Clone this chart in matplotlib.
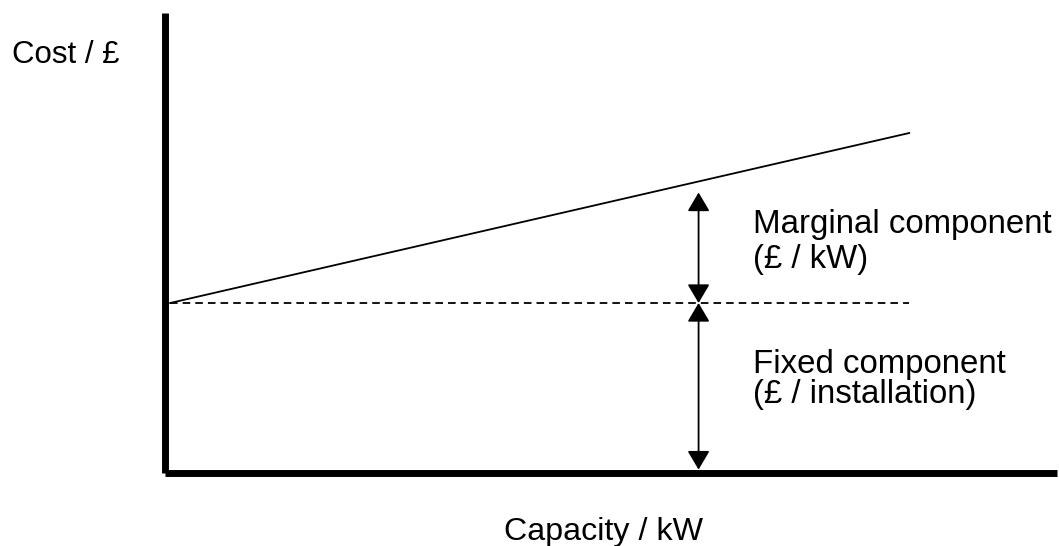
import matplotlib.pyplot as plt
import numpy as np

plt.rcParams['font.family'] = ['Liberation Sans', 'DejaVu Sans']

# cost model (arbitrary units)
capacity = np.array([0.0, 10.0])
fixed_cost = 1.0
marginal_rate = 0.1
total_cost = fixed_cost + marginal_rate * capacity

arrow_cap = 7.15
marginal_top = 1.65

fig = plt.figure(figsize=(10.59, 5.46), dpi=100)
W, H = 1059, 546
ax = fig.add_axes([165 / W, 73 / H, 892 / W, 460 / H])

ax.plot(capacity, total_cost, color='black', lw=1.3)
ax.plot(capacity, [fixed_cost, fixed_cost], color='black', lw=1.3,
        dashes=(4.2, 2.8))

arrow = dict(arrowstyle='<|-|>,head_length=11.5,head_width=6.8',
             mutation_scale=1, color='black', lw=1.3, shrinkA=0, shrinkB=0)
ax.annotate('', xy=(arrow_cap, marginal_top), xytext=(arrow_cap, fixed_cost),
            arrowprops=arrow)
ax.annotate('', xy=(arrow_cap, fixed_cost), xytext=(arrow_cap, 0.02),
            arrowprops=arrow)

ax.set_xlim(-0.07, 12.0)
ax.set_ylim(0, 2.706)
for s in ['top', 'right']:
    ax.spines[s].set_visible(False)
for s in ['left', 'bottom']:
    ax.spines[s].set_linewidth(5)
    ax.spines[s].set_capstyle('butt')
ax.set_xticks([])
ax.set_yticks([])
ax.patch.set_alpha(0)

def label(x, y, s, fs, ha='left'):
    fig.text(x / W, 1 - y / H, s, fontsize=fs, ha=ha, va='baseline')

label(753, 233, 'Marginal component', 23.8)
label(753, 268, '(£ / kW)', 23.8)
label(753, 373, 'Fixed component', 23.8)
label(753, 403, '(£ / installation)', 23.8)
label(12, 63, 'Cost / £', 22.5)
label(604, 540, 'Capacity / kW', 23.2, ha='center')

fig.savefig('out.png', dpi=100)
